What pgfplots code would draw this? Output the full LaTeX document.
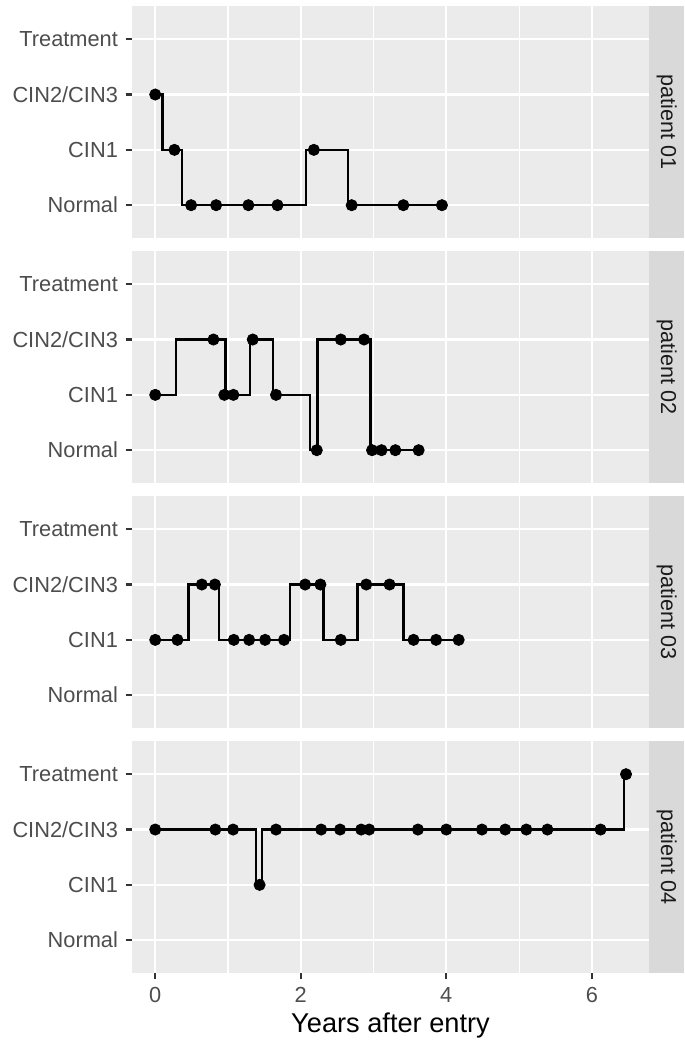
\documentclass[border=0pt]{standalone}
\usepackage{pgfplots}
\pgfplotsset{compat=1.18}
\usepackage{fontspec}
\setmainfont{Liberation Sans}
\definecolor{panelbg}{HTML}{EBEBEB}
\definecolor{stripbg}{HTML}{D9D9D9}
\definecolor{ticktext}{HTML}{4D4D4D}
\definecolor{tickline}{HTML}{333333}
\definecolor{striptext}{HTML}{1A1A1A}
\pgfplotsset{
  gg/.style={
    scale only axis, width=258.8pt, height=116.2pt,
    xmin=-0.3235, xmax=6.79, ymin=0.4, ymax=4.6,
    clip=false,
    axis background/.style={fill=panelbg},
    axis line style={draw=none},
    xtick={0,2,4,6}, minor xtick={1,3,5},
    ytick={1,2,3,4}, yticklabels={Normal,CIN1,CIN2/CIN3,Treatment},
    xmajorgrids, xminorgrids, ymajorgrids,
    major grid style={white, line width=1.1pt},
    minor grid style={white, line width=0.55pt},
    tick align=outside, xtick pos=left, ytick pos=left,
    major tick length=3pt, minor tick length=0pt,
    tick style={color=tickline, line width=1.05pt},
    /pgf/number format/assume math mode=true,
    ticklabel style={font=\fontsize{10.9}{12}\selectfont, text=ticktext, inner sep=0pt},
    yticklabel style={xshift=-3.7pt},
    xticklabel style={yshift=-3.6pt},
  },
  steps/.style={black, line width=1.2pt, no marks},
  pts/.style={only marks, mark=*, mark size=2.8pt, black},
}
\newcommand{\strip}[1]{%
  \fill[stripbg] (rel axis cs:1,0) rectangle ([xshift=17.4pt]rel axis cs:1,1);
  \node[rotate=-90, text=striptext, font=\fontsize{10.8}{12}\selectfont] at ([xshift=8.7pt]rel axis cs:1,0.5) {#1};}
\begin{document}
\begin{tikzpicture}
% patient 01
\begin{axis}[gg, at={(65.85pt,-3pt)}, anchor=north west, xticklabels={}, xtick style={draw=none}]
\addplot[steps] coordinates {(0,3) (0.099,3) (0.099,2) (0.365,2) (0.365,1) (2.07,1) (2.07,2) (2.65,2) (2.65,1) (3.94,1)};
\addplot[pts] coordinates {(0,3) (0.264,2) (0.493,1) (0.837,1) (1.28,1) (1.68,1) (2.18,2) (2.70,1) (3.41,1) (3.94,1)};
\strip{patient 01}
\end{axis}
% patient 02
\begin{axis}[gg, at={(65.85pt,-125.5pt)}, anchor=north west, xticklabels={}, xtick style={draw=none}]
\addplot[steps] coordinates {(0,2) (0.287,2) (0.287,3) (0.965,3) (0.965,2) (1.30,2) (1.30,3) (1.615,3) (1.615,2) (2.128,2) (2.128,1) (2.23,1) (2.23,3) (2.96,3) (2.96,1) (3.62,1)};
\addplot[pts] coordinates {(0,2) (0.80,3) (0.95,2) (1.074,2) (1.34,3) (1.66,2) (2.22,1) (2.55,3) (2.87,3) (2.98,1) (3.11,1) (3.30,1) (3.62,1)};
\strip{patient 02}
\end{axis}
% patient 03
\begin{axis}[gg, at={(65.85pt,-248pt)}, anchor=north west, xticklabels={}, xtick style={draw=none}]
\addplot[steps] coordinates {(0,2) (0.456,2) (0.456,3) (0.88,3) (0.88,2) (1.853,2) (1.853,3) (2.31,3) (2.31,2) (2.78,2) (2.78,3) (3.41,3) (3.41,2) (4.17,2)};
\addplot[pts] coordinates {(0,2) (0.305,2) (0.64,3) (0.82,3) (1.08,2) (1.29,2) (1.51,2) (1.77,2) (2.06,3) (2.27,3) (2.55,2) (2.90,3) (3.22,3) (3.55,2) (3.86,2) (4.17,2)};
\strip{patient 03}
\end{axis}
% patient 04
\begin{axis}[gg, at={(65.85pt,-370.5pt)}, anchor=north west,
  xlabel={Years after entry},
  xlabel style={at={(rel axis cs:0.5,0)}, anchor=base, yshift=-29.6pt, font=\fontsize{13.6}{15}\selectfont, text=black, inner sep=0pt}]
\addplot[steps] coordinates {(0,3) (1.383,3) (1.383,2) (1.466,2) (1.466,3) (6.445,3) (6.445,4) (6.47,4)};
\addplot[pts] coordinates {(0,3) (0.826,3) (1.07,3) (1.434,2) (1.66,3) (2.28,3) (2.54,3) (2.83,3) (2.94,3) (3.61,3) (4.00,3) (4.49,3) (4.81,3) (5.10,3) (5.39,3) (6.12,3) (6.47,4)};
\strip{patient 04}
\end{axis}
\path (0,0) rectangle (342pt,-521.5pt);
\end{tikzpicture}
\end{document}
